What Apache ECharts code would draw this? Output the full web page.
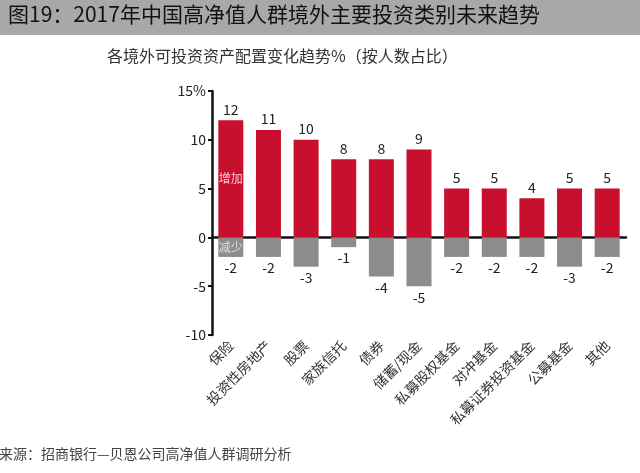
<!DOCTYPE html>
<html>
<head>
<meta charset="utf-8">
<script src="https://cdn.jsdelivr.net/npm/echarts@6/dist/echarts.min.js"></script>
<style>
html, body { margin: 0; padding: 0; background: #fff; }
#main { width: 640px; height: 473px; }
</style>
</head>
<body>
<div id="main"></div>
<script>
var categories = ['保险', '投资性房地产', '股票', '家族信托', '债券', '储蓄/现金', '私募股权基金', '对冲基金', '私募证券投资基金', '公募基金', '其他'];
var increase = [12, 11, 10, 8, 8, 9, 5, 5, 4, 5, 5];
var decrease = [-2, -2, -3, -1, -4, -5, -2, -2, -2, -3, -2];
var yTicks = [-10, -5, 0, 5, 10, 15];

function initChart() {
    // 初始化echarts实例
    var chart = echarts.init(document.getElementById('main'));
    var font = '"Noto Sans CJK SC", "Noto Sans", sans-serif';
    var option = {
        backgroundColor: '#fff',
        textStyle: { fontFamily: font },
        graphic: [
            { type: 'rect', left: 0, top: 0, shape: { width: 640, height: 35 }, style: { fill: '#a8a8a8' } },
            { type: 'text', left: 8, top: 4, style: { text: '图19：2017年中国高净值人群境外主要投资类别未来趋势', fill: '#111', font: '21px ' + font } },
            { type: 'text', left: 107, top: 48, style: { text: '各境外可投资资产配置变化趋势%（按人数占比）', fill: '#333', font: '16px ' + font } },
            { type: 'text', left: -1, top: 447, style: { text: '来源：招商银行—贝恩公司高净值人群调研分析', fill: '#444', font: '14px ' + font } }
        ],
        grid: { left: 212, right: 14, top: 91, bottom: 138 },
        xAxis: {
            type: 'category',
            data: categories,
            axisLine: { onZero: true, lineStyle: { color: '#111', width: 2.5 } },
            axisTick: { show: false },
            axisLabel: { rotate: 45, color: '#333', fontSize: 14, interval: 0, margin: 8 },
            position: 'bottom'
        },
        yAxis: {
            type: 'value',
            min: yTicks[0],
            max: yTicks[yTicks.length - 1],
            interval: 5,
            splitLine: { show: false },
            axisLine: { show: true, lineStyle: { color: '#111', width: 2.5 } },
            axisTick: { show: true, length: 4, lineStyle: { color: '#111', width: 2 } },
            axisLabel: {
                color: '#222', fontSize: 14, margin: 6,
                formatter: function (v) { return v === 15 ? '15%' : v; }
            }
        },
        series: [
            {
                name: '增加', type: 'bar', stack: 'a', barWidth: 25,
                data: increase,
                itemStyle: { color: '#c8102e' },
                label: { show: true, position: 'top', color: '#222', fontSize: 14, distance: 4 },
                markPoint: {
                    symbol: 'circle', symbolSize: 0,
                    label: { show: true, color: '#f6c8cf', fontSize: 12, position: 'inside' },
                    data: [{ coord: [categories[0], 6], value: '增加' }]
                }
            },
            {
                name: '减少', type: 'bar', stack: 'a', barWidth: 25,
                data: decrease,
                itemStyle: { color: '#8c8c8c' },
                label: { show: true, position: 'bottom', color: '#222', fontSize: 14, distance: 4 },
                markPoint: {
                    symbol: 'circle', symbolSize: 0,
                    label: { show: true, color: '#dedede', fontSize: 12, position: 'inside' },
                    data: [{ coord: [categories[0], -1], value: '减少' }]
                }
            }
        ]
    };
    chart.setOption(option);
}
initChart();
</script>
</body>
</html>
